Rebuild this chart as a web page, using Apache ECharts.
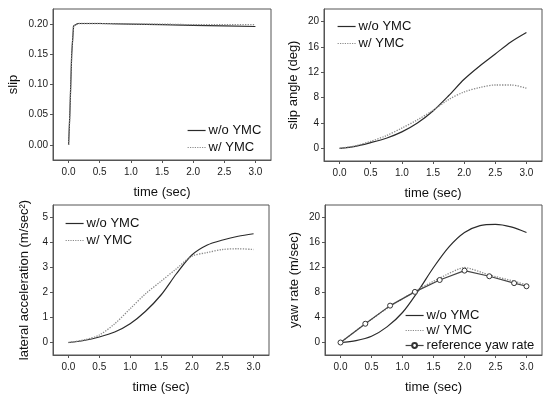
<!DOCTYPE html>
<html>
<head>
<meta charset="utf-8">
<script src="https://cdn.jsdelivr.net/npm/echarts@6/dist/echarts.min.js"></script>
<style>
  html, body { margin: 0; padding: 0; background: #fff; }
  #chart { width: 545px; height: 395px; }
</style>
</head>
<body>
<div id="chart"></div>
<script>
// time ticks shared by all four panels
const timeTicks = [0, 0.5, 1.0, 1.5, 2.0, 2.5, 3.0]

// slip
const slipTicks = [0, 0.05, 0.1, 0.15, 0.2]
const slipWo = [[0, 0], [0.02, 0.05], [0.05, 0.15], [0.08, 0.197], [0.15, 0.201], [0.5, 0.201], [1.0, 0.2], [1.5, 0.199], [2.0, 0.198], [2.5, 0.197], [3.0, 0.196]]
const slipW = [[0, 0], [0.02, 0.05], [0.05, 0.15], [0.08, 0.197], [0.15, 0.201], [0.5, 0.201], [1.0, 0.2], [1.5, 0.2], [2.0, 0.199], [2.5, 0.199], [3.0, 0.199]]

// slip angle (deg)
const angleTicks = [0, 4, 8, 12, 16, 20]
const angleWo = [[0, 0], [0.25, 0.3], [0.5, 0.9], [0.75, 1.6], [1.0, 2.6], [1.25, 4.0], [1.5, 5.9], [1.75, 8.3], [2.0, 10.9], [2.25, 13.0], [2.5, 14.9], [2.75, 16.8], [3.0, 18.3]]
const angleW = [[0, 0], [0.25, 0.4], [0.5, 1.1], [0.75, 2.0], [1.0, 3.2], [1.25, 4.5], [1.5, 6.0], [1.75, 7.7], [2.0, 8.9], [2.25, 9.6], [2.5, 10.0], [2.75, 10.0], [3.0, 9.5]]

// lateral acceleration (m/sec^2)
const accTicks = [0, 1, 2, 3, 4, 5]
const accWo = [[0, 0], [0.25, 0.08], [0.5, 0.22], [0.75, 0.42], [1.0, 0.75], [1.25, 1.25], [1.5, 1.9], [1.75, 2.75], [2.0, 3.5], [2.25, 3.9], [2.5, 4.1], [2.75, 4.25], [3.0, 4.35]]
const accW = [[0, 0], [0.25, 0.1], [0.5, 0.3], [0.75, 0.75], [1.0, 1.35], [1.25, 1.95], [1.5, 2.45], [1.75, 2.95], [2.0, 3.45], [2.25, 3.6], [2.5, 3.72], [2.75, 3.75], [3.0, 3.72]]

// yaw rate (m/sec)
const yawTicks = [0, 4, 8, 12, 16, 20]
const yawWo = [[0, 0], [0.25, 0.3], [0.5, 1.0], [0.75, 2.5], [1.0, 4.8], [1.25, 8.2], [1.5, 12.0], [1.75, 15.3], [2.0, 17.6], [2.25, 18.7], [2.5, 18.9], [2.75, 18.5], [3.0, 17.6]]
const yawW = [[0, 0], [0.4, 3.0], [0.8, 5.8], [1.0, 7.0], [1.2, 8.2], [1.6, 10.3], [2.0, 12.0], [2.4, 10.8], [2.8, 9.8], [3.0, 9.2]]
const yawRef = [[0, 0], [0.4, 3.0], [0.8, 5.9], [1.2, 8.1], [1.6, 10.0], [2.0, 11.5], [2.4, 10.6], [2.8, 9.5], [3.0, 9.0]]

const font = 'Liberation Sans, Arial, sans-serif'
const dark = '#2a2a2a'
const light = '#8a8a8a'

const grids = [
  { left: 53, top: 9, width: 218, height: 151 },
  { left: 324, top: 9, width: 218, height: 152 },
  { left: 53, top: 205, width: 216, height: 152 },
  { left: 325, top: 205, width: 217, height: 152 }
].map(g => ({ ...g, show: true, borderColor: '#555', borderWidth: 1 }))

const xAxis = grids.map((g, i) => ({
  type: 'value',
  gridIndex: i,
  min: -0.25,
  max: 3.25,
  name: 'time (sec)',
  nameLocation: 'middle',
  nameGap: 26,
  nameTextStyle: { fontFamily: font, fontSize: 13, color: '#111' },
  axisLine: { show: true, onZero: false, lineStyle: { color: '#555' } },
  axisTick: { show: true, length: 3, customValues: timeTicks, lineStyle: { color: '#555' } },
  axisLabel: { customValues: timeTicks, formatter: v => v.toFixed(1), fontFamily: font, fontSize: 10, color: '#1a1a1a', margin: 7 },
  splitLine: { show: false }
}))

const yDefs = [
  { name: 'slip', min: -0.025, max: 0.225, ticks: slipTicks, fmt: v => v.toFixed(2), gap: 33 },
  { name: 'slip angle (deg)', min: -2, max: 22, ticks: angleTicks, fmt: v => String(v), gap: 24 },
  { name: 'lateral acceleration (m/sec²)', min: -0.5, max: 5.5, ticks: accTicks, fmt: v => String(v), gap: 22 },
  { name: 'yaw rate (m/sec)', min: -2, max: 22, ticks: yawTicks, fmt: v => String(v), gap: 24 }
]

const yAxis = yDefs.map((d, i) => ({
  type: 'value',
  gridIndex: i,
  min: d.min,
  max: d.max,
  name: d.name,
  nameLocation: 'middle',
  nameGap: d.gap,
  nameTextStyle: { fontFamily: font, fontSize: 13, color: '#111' },
  axisLine: { show: true, onZero: false, lineStyle: { color: '#555' } },
  axisTick: { show: true, length: 3, customValues: d.ticks, lineStyle: { color: '#555' } },
  axisLabel: { customValues: d.ticks, formatter: d.fmt, fontFamily: font, fontSize: 10, color: '#1a1a1a', margin: 5 },
  splitLine: { show: false }
}))

const line = (name, data, idx, color, type, smooth) => ({
  name,
  type: 'line',
  xAxisIndex: idx,
  yAxisIndex: idx,
  data,
  smooth,
  symbol: 'none',
  lineStyle: { color, width: type === 'solid' ? 1.2 : 1.3, type },
  itemStyle: { color }
})

const series = [
  line('w/o YMC', slipWo, 0, dark, 'solid', false),
  line('w/ YMC', slipW, 0, light, 'dotted', false),
  line('w/o YMC', angleWo, 1, dark, 'solid', 0.3),
  line('w/ YMC', angleW, 1, light, 'dotted', 0.3),
  line('w/o YMC', accWo, 2, dark, 'solid', 0.3),
  line('w/ YMC', accW, 2, light, 'dotted', 0.3),
  line('w/o YMC', yawWo, 3, dark, 'solid', 0.3),
  line('w/ YMC', yawW, 3, light, 'dotted', 0.2),
  {
    ...line('reference yaw rate', yawRef, 3, '#444', 'solid', false),
    symbol: 'circle',
    symbolSize: 5,
    showSymbol: true,
    itemStyle: { color: '#fff', borderColor: '#333', borderWidth: 1 }
  }
]

// one legend per panel; plain line samples, only the reference keeps its circle
const plain = name => ({ name, itemStyle: { opacity: 0 } })
const legendBase = {
  orient: 'vertical',
  itemWidth: 18,
  itemHeight: 6,
  itemGap: 4,
  lineStyle: { width: 1.2 },
  textStyle: { fontFamily: font, fontSize: 13, color: '#111', padding: [0, 0, 0, -2] },
  backgroundColor: 'transparent',
  selectedMode: false
}
const legend = [
  { ...legendBase, left: 182, top: 119, data: [plain('w/o YMC'), plain('w/ YMC')], seriesIndex: [0, 1] },
  { ...legendBase, left: 332, top: 15, data: [plain('w/o YMC'), plain('w/ YMC')], seriesIndex: [2, 3] },
  { ...legendBase, left: 60, top: 212, data: [plain('w/o YMC'), plain('w/ YMC')], seriesIndex: [4, 5] },
  { ...legendBase, left: 400, top: 304, data: [plain('w/o YMC'), plain('w/ YMC'), 'reference yaw rate'], seriesIndex: [6, 7, 8], itemGap: 2 }
]

const chart = echarts.init(document.getElementById('chart'), null, { renderer: 'canvas' })
chart.setOption({
  animation: false,
  backgroundColor: '#fff',
  grid: grids,
  xAxis,
  yAxis,
  legend,
  series
})
</script>
</body>
</html>
